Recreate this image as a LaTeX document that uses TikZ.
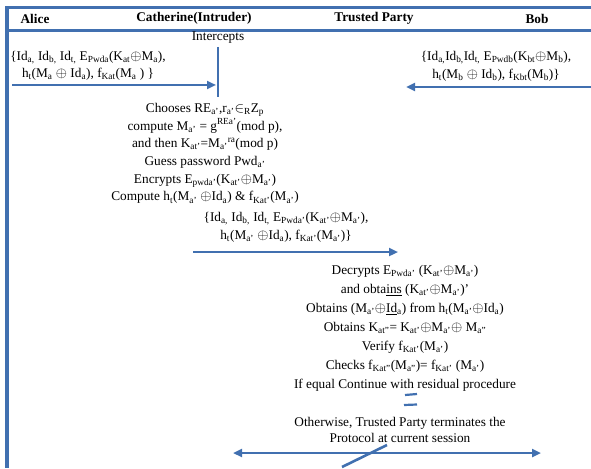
\documentclass[tikz,border=0pt]{standalone}
\usepackage{fontspec}
\setmainfont{Liberation Serif}
\usetikzlibrary{arrows.meta}
\definecolor{lineblue}{HTML}{4170B0}
\newcommand{\sbs}[1]{\textsubscript{#1}}
\newcommand{\sps}[1]{\textsuperscript{#1}}
\newcommand{\xo}{$\oplus$}
\tikzset{
  txt/.style={inner sep=0pt, align=center, font=\fontsize{13.3}{17.7}\selectfont},
  hdr/.style={inner sep=0pt, font=\fontsize{13.3}{15}\selectfont\bfseries},
  rule/.style={draw=lineblue, line width=3pt},
  msg/.style={draw=lineblue, line width=2.6pt, -{Triangle[length=9pt,width=8pt]}},
  msgboth/.style={draw=lineblue, line width=2.6pt, {Triangle[length=9pt,width=8pt]}-{Triangle[length=9pt,width=8pt]}},
  bar/.style={draw=lineblue, line width=2.6pt}
}
\begin{document}
\begin{tikzpicture}[x=1pt,y=-1pt]
\useasboundingbox (0,0) rectangle (591,468);
% frame
\draw[rule] (5,8) -- (591,8);
\draw[rule] (5,30.5) -- (591,30.5);
\draw[draw=lineblue, line width=4pt] (7,6.5) -- (7,468);
% headers
\node[hdr] (alice) at (35,18.5) {Alice};
\node[hdr] (cath) at (194,18.5) {Catherine(Intruder)};
\node[hdr] (tp) at (374,18.5) {Trusted Party};
\node[hdr] (bob) at (537,18.5) {Bob};
% Alice message
\node[txt, anchor=north, font=\fontsize{13.3}{16.8}\selectfont] (amsg) at (88,51) {\{Id\sbs{a,} Id\sbs{b,} Id\sbs{t,} E\sbs{Pwda}(K\sbs{at}\xo M\sbs{a}),\\
h\sbs{t}(M\sbs{a} \xo{} Id\sbs{a}), f\sbs{Kat}(M\sbs{a} ) \}};
\node[txt] (inter) at (218,38) {Intercepts};
\coordinate (a1) at (12,85);
\coordinate (a2) at (216,85);
\draw[msg] (a1) -- (a2);
\coordinate (v1) at (218,47);
\coordinate (v2) at (218,97);
\draw[bar] (v1) -- (v2);
% Bob message
\node[txt, anchor=north, font=\fontsize{13.3}{17.6}\selectfont] (bmsg) at (496,51) {\{Id\sbs{a,}Id\sbs{b,}Id\sbs{t,} E\sbs{Pwdb}(K\sbs{bt}\xo M\sbs{b}),\\
h\sbs{t}(M\sbs{b} \xo{} Id\sbs{b}), f\sbs{Kbt}(M\sbs{b})\}};
\coordinate (b1) at (591,87);
\coordinate (b2) at (406,87);
\draw[msg] (b1) -- (b2);
% Catherine block
\node[txt, anchor=north] (cblock) at (205,103) {Chooses RE\sbs{a'},r\sbs{a'}$\in$\sbs{R}Z\sbs{p}\\
compute M\sbs{a'} = g\sps{REa'}(mod p),\\
and then K\sbs{at'}=M\sbs{a'}\sps{ra}(mod p)\\
Guess password Pwd\sbs{a'}\\
Encrypts E\sbs{pwda'}(K\sbs{at'}\xo M\sbs{a'})\\
Compute h\sbs{t}(M\sbs{a'} \xo Id\sbs{a}) \& f\sbs{Kat'}(M\sbs{a'})};
\node[txt, anchor=north, font=\fontsize{13.3}{17.6}\selectfont] (cmsg) at (286,212) {\{Id\sbs{a,} Id\sbs{b,} Id\sbs{t,} E\sbs{Pwda'}(K\sbs{at'}\xo M\sbs{a'}),\\
h\sbs{t}(M\sbs{a'} \xo Id\sbs{a}), f\sbs{Kat'}(M\sbs{a'})\}};
\coordinate (c1) at (193,252);
\coordinate (c2) at (398,252);
\draw[msg] (c1) -- (c2);
% Trusted party block
\node[txt, anchor=north, font=\fontsize{13.3}{19}\selectfont] (tblock) at (405,265) {Decrypts E\sbs{Pwda'} (K\sbs{at'}\xo M\sbs{a'})\\
and obta\underline{ins} (K\sbs{at'}\xo M\sbs{a'})'\\
Obtains (M\sbs{a'}\xo\underline{Id}\sbs{a}) from h\sbs{t}(M\sbs{a'}\xo Id\sbs{a})\\
Obtains K\sbs{at''}= K\sbs{at'}\xo M\sbs{a'}\xo{} M\sbs{a''}\\
Verify f\sbs{Kat'}(M\sbs{a'})\\
Checks f\sbs{Kat''}(M\sbs{a''})= f\sbs{Kat'} (M\sbs{a'})\\
If equal Continue with residual procedure};
\coordinate (e1) at (405,395);
\coordinate (e2) at (417,394);
\coordinate (e3) at (404,405);
\coordinate (e4) at (417,404.5);
\draw[draw=lineblue, line width=2.2pt] (e1) -- (e2);
\draw[draw=lineblue, line width=2.2pt] (e3) -- (e4);
\node[txt, anchor=north, font=\fontsize{13.3}{16.5}\selectfont] (tend) at (400,417) {Otherwise, Trusted Party terminates the\\
Protocol at current session};
\coordinate (d1) at (233,453);
\coordinate (d2) at (541,453);
\draw[msgboth] (d1) -- (d2);
\coordinate (s1) at (342,467);
\coordinate (s2) at (387,445);
\draw[draw=lineblue, line width=2.6pt] (s1) -- (s2);
\end{tikzpicture}
\end{document}
